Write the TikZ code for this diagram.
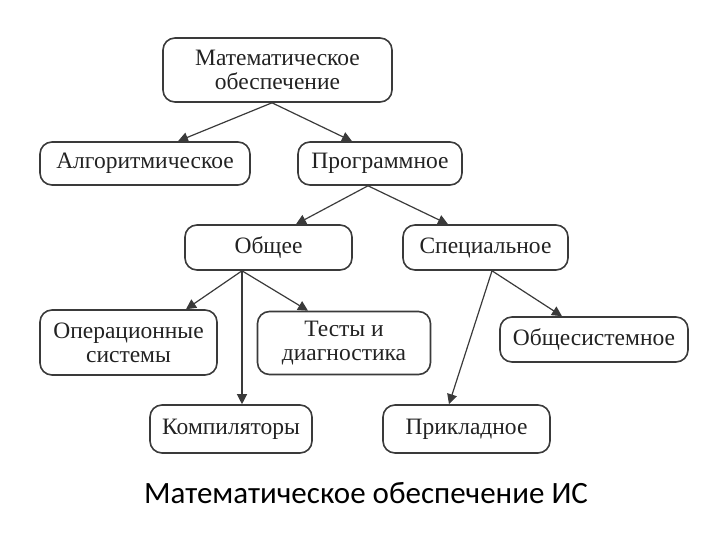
\documentclass[tikz,border=0pt]{standalone}
\usepackage{fontspec}
\setmainfont{Liberation Serif}
\newfontfamily\capfont{Carlito}
\usetikzlibrary{arrows.meta}
\definecolor{ln}{HTML}{3A3A3A}
\definecolor{tx}{HTML}{222222}
\tikzset{
  box/.style={draw=ln, line width=1.6pt, rounded corners=12pt, inner sep=0pt, align=center,
    text=tx, font=\fontsize{23.5}{24}\selectfont},
  conn/.style={draw=ln, line width=1.2pt, -{Triangle[length=10pt,width=10pt]}}
}
\begin{document}
\begin{tikzpicture}[x=1pt,y=-1pt]
\useasboundingbox (0,0) rectangle (720,540);
\node[box, minimum width=229pt, minimum height=64pt] (mat) at (277.5,70) {Математическое\\обеспечение};
\node[box, minimum width=210pt, minimum height=43pt] (alg) at (145,163.5) {Алгоритмическое};
\node[box, minimum width=164pt, minimum height=43pt] (prog) at (380,163.5) {Программное};
\node[box, minimum width=167pt, minimum height=45pt] (obs) at (268.5,247.5) {Общее};
\node[box, minimum width=165pt, minimum height=45pt] (spec) at (485.5,247.5) {Специальное};
\node[box, minimum width=177pt, minimum height=65pt] (oper) at (128.5,342.5) {Операционные\\системы};
\node[box, minimum width=173pt, minimum height=63pt] (test) at (344,343) {Тесты и\\диагностика};
\node[box, minimum width=188pt, minimum height=45pt] (osys) at (594,339.5) {Общесистемное};
\node[box, minimum width=162pt, minimum height=48pt] (komp) at (231,429) {Компиляторы};
\node[box, minimum width=167pt, minimum height=48pt] (prik) at (466.5,429) {Прикладное};
\node[font=\capfont\fontsize{31}{34}\selectfont, text=black] (cap) at (366,493) {Математическое обеспечение ИС};

\draw[conn] ([xshift=-5.5pt]mat.south) -- ([xshift=33pt]alg.north);
\draw[conn] ([xshift=-5.5pt]mat.south) -- ([xshift=-28pt]prog.north);
\draw[conn] ([xshift=-12pt]prog.south) -- ([xshift=27.5pt]obs.north);
\draw[conn] ([xshift=-12pt]prog.south) -- ([xshift=-37.5pt]spec.north);
\draw[conn] ([xshift=-26.5pt]obs.south) -- ([xshift=57.5pt]oper.north);
\draw[conn] ([xshift=-26.5pt]obs.south) -- ([xshift=-36pt]test.north);
\draw[conn] ([xshift=-26.5pt]obs.south) -- ([xshift=11pt]komp.north);
\draw[conn] ([xshift=6.5pt]spec.south) -- ([xshift=-32pt]osys.north);
\draw[conn] ([xshift=6.5pt]spec.south) -- ([xshift=-17.5pt]prik.north);
\end{tikzpicture}
\end{document}
